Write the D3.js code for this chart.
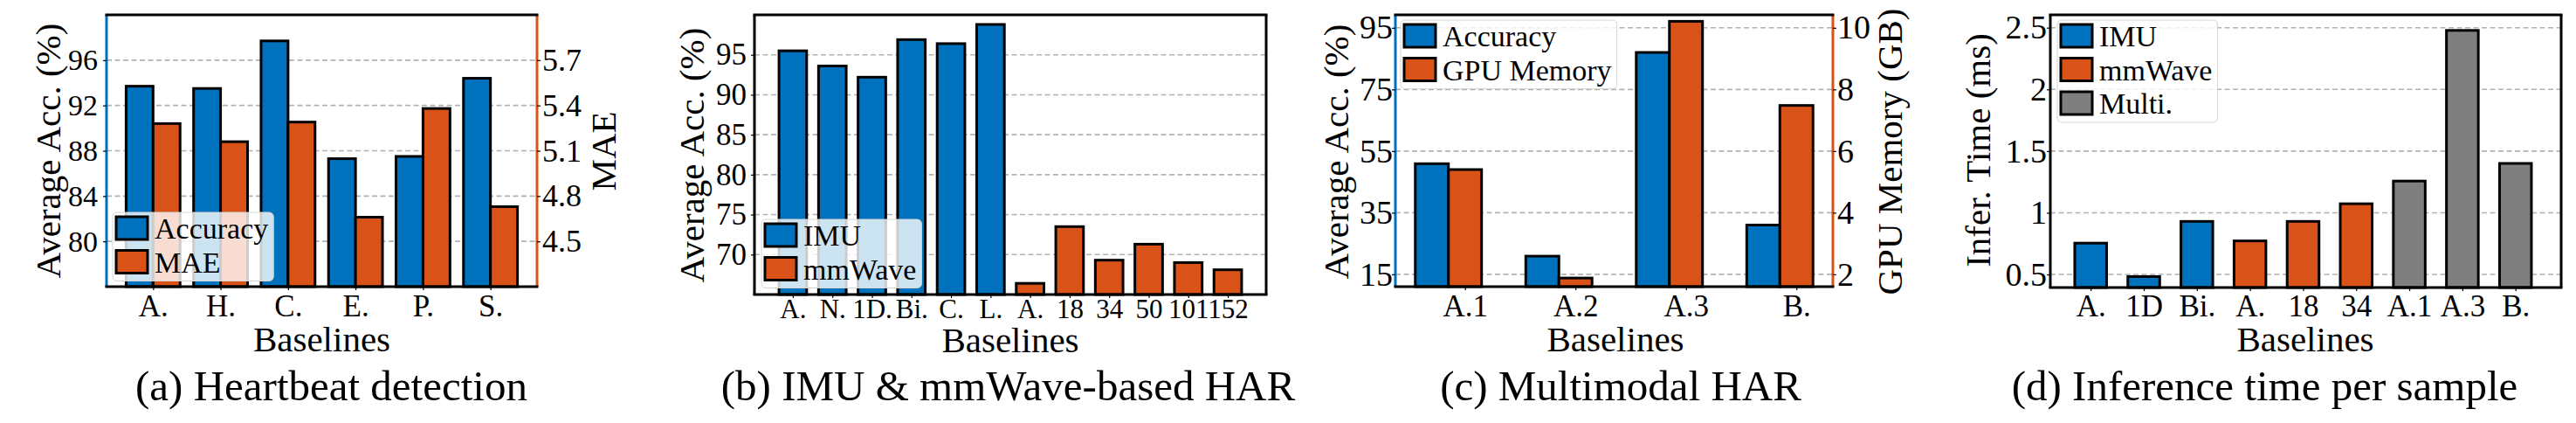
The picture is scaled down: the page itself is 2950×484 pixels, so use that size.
<!DOCTYPE html>
<html>
<head>
<meta charset="utf-8">
<script src="https://cdnjs.cloudflare.com/ajax/libs/d3/7.8.5/d3.min.js"></script>
<style>
  body { margin: 0; background: #fff; }
  svg text { font-family: "Liberation Serif", "Times New Roman", serif !important; }
</style>
</head>
<body>
<div id="chart"></div>
<script>
// (a) Heartbeat detection
const hbLabels = ['A.', 'H.', 'C.', 'E.', 'P.', 'S.'];
const hbAccuracy = [93.7, 93.5, 97.7, 87.3, 87.5, 94.4];
const hbMAE = [5.28, 5.16, 5.29, 4.66, 5.38, 4.73];
const hbAccTicks = [80, 84, 88, 92, 96];
const hbMaeTicks = [4.5, 4.8, 5.1, 5.4, 5.7];

// (b) IMU & mmWave-based HAR
const imuLabels = ['A.', 'N.', '1D.', 'Bi.', 'C.', 'L.'];
const imuAccuracy = [95.5, 93.6, 92.2, 96.9, 96.4, 98.8];
const mmLabels = ['A.', '18', '34', '50', '101', '152'];
const mmAccuracy = [66.4, 73.5, 69.3, 71.3, 69.0, 68.1];
const harTicks = [70, 75, 80, 85, 90, 95];

// (c) Multimodal HAR
const multiLabels = ['A.1', 'A.2', 'A.3', 'B.'];
const multiAccuracy = [50.9, 20.9, 87.0, 31.0];
const multiGpu = [5.40, 1.88, 10.21, 7.48];
const multiAccTicks = [15, 35, 55, 75, 95];
const multiGpuTicks = [2, 4, 6, 8, 10];

// (d) Inference time per sample
const timeImuLabels = ['A.', '1D', 'Bi.'];
const timeImu = [0.754, 0.483, 0.93];
const timeMmLabels = ['A.', '18', '34'];
const timeMm = [0.772, 0.93, 1.073];
const timeMultiLabels = ['A.1', 'A.3', 'B.'];
const timeMulti = [1.257, 2.478, 1.40];
const timeTicks = [0.5, 1, 1.5, 2, 2.5];

const FONT = '"Liberation Serif", "Times New Roman", serif';
const BLUE = '#0072bd', ORANGE = '#d95319', GRAY = '#7f7f7f';

const svg = d3.select('#chart').append('svg')
    .attr('width', 2950)
    .attr('height', 484)
    .style('font-family', FONT);

function scales(box, xDomain, yDomain) {
    const x = d3.scaleLinear().domain(xDomain).range([box.left, box.right]);
    const y = d3.scaleLinear().domain(yDomain).range([box.bottom, box.top]);
    return { x, y };
}

function grid(box, y, ticks) {
    svg.append('g').selectAll('line')
        .data(ticks)
        .enter().append('line')
        .attr('x1', box.left).attr('x2', box.right)
        .attr('y1', d => y(d)).attr('y2', d => y(d))
        .attr('stroke', '#b2b2b2')
        .attr('stroke-width', 1.6)
        .attr('stroke-dasharray', '6,3.5');
}

// bars centred at (start + i + offset), each `width` wide
function bars(x, y, values, start, offset, width, color) {
    const base = y.range()[0];
    svg.append('g').selectAll('rect')
        .data(values)
        .enter().append('rect')
        .attr('x', (d, i) => x(start + i + offset - width / 2))
        .attr('width', x(width) - x(0))
        .attr('y', d => y(d))
        .attr('height', d => base - y(d))
        .attr('fill', color)
        .attr('stroke', '#000')
        .attr('stroke-width', 3);
}

function frame(box, leftColor, rightColor) {
    const g = svg.append('g');
    g.append('line').attr('x1', box.left).attr('x2', box.left).attr('y1', box.top).attr('y2', box.bottom)
        .attr('stroke', leftColor).attr('stroke-width', 3);
    g.append('line').attr('x1', box.right).attr('x2', box.right).attr('y1', box.top).attr('y2', box.bottom)
        .attr('stroke', rightColor).attr('stroke-width', 3);
    g.append('line').attr('x1', box.left - 1.5).attr('x2', box.right + 1.5).attr('y1', box.top).attr('y2', box.top)
        .attr('stroke', '#000').attr('stroke-width', 3.2);
    g.append('line').attr('x1', box.left - 1.5).attr('x2', box.right + 1.5).attr('y1', box.bottom).attr('y2', box.bottom)
        .attr('stroke', '#000').attr('stroke-width', 3.2);
}

function styleAxis(ax, size) {
    ax.attr('font-family', null);
    ax.select('.domain').remove();
    ax.selectAll('line').attr('stroke', '#000').attr('stroke-width', 1.2);
    ax.selectAll('text')
        .attr('font-size', size)
        .attr('fill', '#000');
}

function yAxis(box, y, ticks, side, pad, size, fmt) {
    const axis = (side === 'left' ? d3.axisLeft(y) : d3.axisRight(y))
        .tickValues(ticks).tickSize(4).tickPadding(pad)
        .tickFormat(fmt || (d => d));
    const ax = svg.append('g')
        .attr('transform', 'translate(' + (side === 'left' ? box.left : box.right) + ',0)')
        .call(axis);
    styleAxis(ax, size);
}

function xAxis(box, x, labels, baseline, size) {
    const axis = d3.axisBottom(x)
        .tickValues(d3.range(labels.length))
        .tickFormat(i => labels[i])
        .tickSize(4)
        .tickPadding(0);
    const ax = svg.append('g')
        .attr('transform', 'translate(0,' + box.bottom + ')')
        .call(axis);
    styleAxis(ax, size);
    ax.selectAll('text').attr('dy', null).attr('y', baseline - box.bottom);
}

function rotLabel(text, bx, cy, size) {
    svg.append('text')
        .attr('transform', 'translate(' + bx + ',' + cy + ') rotate(-90)')
        .attr('text-anchor', 'middle')
        .attr('font-size', size)
        .text(text);
}

function centerText(text, cx, baseline, size) {
    svg.append('text')
        .attr('x', cx).attr('y', baseline)
        .attr('text-anchor', 'middle')
        .attr('font-size', size)
        .text(text);
}

function legend(x0, y0, items) {
    const rowH = 38.5;
    const g = svg.append('g').attr('transform', 'translate(' + x0 + ',' + y0 + ')');
    const bg = g.append('rect')
        .attr('rx', 5).attr('ry', 5)
        .attr('fill', '#fff').attr('fill-opacity', 0.8)
        .attr('stroke', '#d6d6d6').attr('stroke-width', 1);
    let maxLen = 0;
    items.forEach((it, i) => {
        g.append('rect')
            .attr('x', 4).attr('y', 5 + i * rowH)
            .attr('width', 36).attr('height', 26)
            .attr('fill', it.color)
            .attr('stroke', '#000').attr('stroke-width', 3);
        const t = g.append('text')
            .attr('x', 48).attr('y', 5 + i * rowH + 25)
            .attr('font-size', 34)
            .text(it.label);
        maxLen = Math.max(maxLen, t.node().getComputedTextLength());
    });
    bg.attr('width', 48 + maxLen + 6)
        .attr('height', 4 + (items.length - 1) * rowH + 26 + 10);
}

// ---------- (a) Heartbeat detection ----------
function panelA() {
    const box = { left: 122, right: 615, top: 17, bottom: 328 };
    const { x, y } = scales(box, [-0.69, 5.69], [76, 100]);
    const y2 = d3.scaleLinear().domain([4.2, 6.0]).range([box.bottom, box.top]);
    grid(box, y, hbAccTicks);
    bars(x, y, hbAccuracy, 0, -0.2, 0.4, BLUE);
    bars(x, y2, hbMAE, 0, 0.2, 0.4, ORANGE);
    frame(box, BLUE, ORANGE);
    yAxis(box, y, hbAccTicks, 'left', 6, 34);
    yAxis(box, y2, hbMaeTicks, 'right', 2, 36, d3.format('.1f'));
    xAxis(box, x, hbLabels, 362, 35);
    legend(129, 243, [{ label: 'Accuracy', color: BLUE }, { label: 'MAE', color: ORANGE }]);
    rotLabel('Average Acc. (%)', 69, 172.5, 41);
    rotLabel('MAE', 705, 173, 41);
    centerText('Baselines', 368.5, 402, 41);
    centerText('(a)  Heartbeat detection', 379.5, 458, 49);
}

// ---------- (b) IMU & mmWave-based HAR ----------
function panelB() {
    const box = { left: 864, right: 1450, top: 17, bottom: 337 };
    const { x, y } = scales(box, [-0.97, 11.97], [65, 100]);
    grid(box, y, harTicks);
    bars(x, y, imuAccuracy, 0, 0, 0.7, BLUE);
    bars(x, y, mmAccuracy, imuAccuracy.length, 0, 0.7, ORANGE);
    frame(box, '#000', '#000');
    yAxis(box, y, harTicks, 'left', 5, 35);
    xAxis(box, x, imuLabels.concat(mmLabels), 364, 31);
    legend(872, 251, [{ label: 'IMU', color: BLUE }, { label: 'mmWave', color: ORANGE }]);
    rotLabel('Average Acc. (%)', 806, 177.5, 41);
    centerText('Baselines', 1157, 403, 41);
    centerText('(b)  IMU & mmWave-based HAR', 1154.5, 458, 49);
}

// ---------- (c) Multimodal HAR ----------
function panelC() {
    const box = { left: 1598, right: 2099, top: 17, bottom: 328 };
    const { x, y } = scales(box, [-0.63, 3.33], [11, 99.2]);
    const y2 = d3.scaleLinear().domain([1.6, 10.42]).range([box.bottom, box.top]);
    grid(box, y, multiAccTicks);
    bars(x, y, multiAccuracy, 0, -0.3, 0.3, BLUE);
    bars(x, y2, multiGpu, 0, 0, 0.3, ORANGE);
    frame(box, BLUE, ORANGE);
    yAxis(box, y, multiAccTicks, 'left', -1, 38);
    yAxis(box, y2, multiGpuTicks, 'right', 1, 38);
    xAxis(box, x, multiLabels, 362, 35);
    legend(1604, 23, [{ label: 'Accuracy', color: BLUE }, { label: 'GPU Memory', color: ORANGE }]);
    rotLabel('Average Acc. (%)', 1544, 173.5, 41);
    rotLabel('GPU Memory (GB)', 2178, 173.5, 41);
    centerText('Baselines', 1850, 402, 41);
    centerText('(c)  Multimodal HAR', 1856, 458, 49);
}

// ---------- (d) Inference time per sample ----------
function panelD() {
    const box = { left: 2348, right: 2933, top: 17, bottom: 329 };
    const { x, y } = scales(box, [-0.76, 8.86], [0.394, 2.604]);
    grid(box, y, timeTicks);
    bars(x, y, timeImu, 0, 0, 0.6, BLUE);
    bars(x, y, timeMm, timeImu.length, 0, 0.6, ORANGE);
    bars(x, y, timeMulti, timeImu.length + timeMm.length, 0, 0.6, GRAY);
    frame(box, '#000', '#000');
    yAxis(box, y, timeTicks, 'left', 0, 38);
    xAxis(box, x, timeImuLabels.concat(timeMmLabels, timeMultiLabels), 362, 35);
    legend(2356, 23, [
        { label: 'IMU', color: BLUE },
        { label: 'mmWave', color: ORANGE },
        { label: 'Multi.', color: GRAY }
    ]);
    rotLabel('Infer. Time (ms)', 2279, 172, 41);
    centerText('Baselines', 2640, 402, 41);
    centerText('(d)  Inference time per sample', 2593.5, 458, 49);
}

panelA();
panelB();
panelC();
panelD();
</script>
</body>
</html>
